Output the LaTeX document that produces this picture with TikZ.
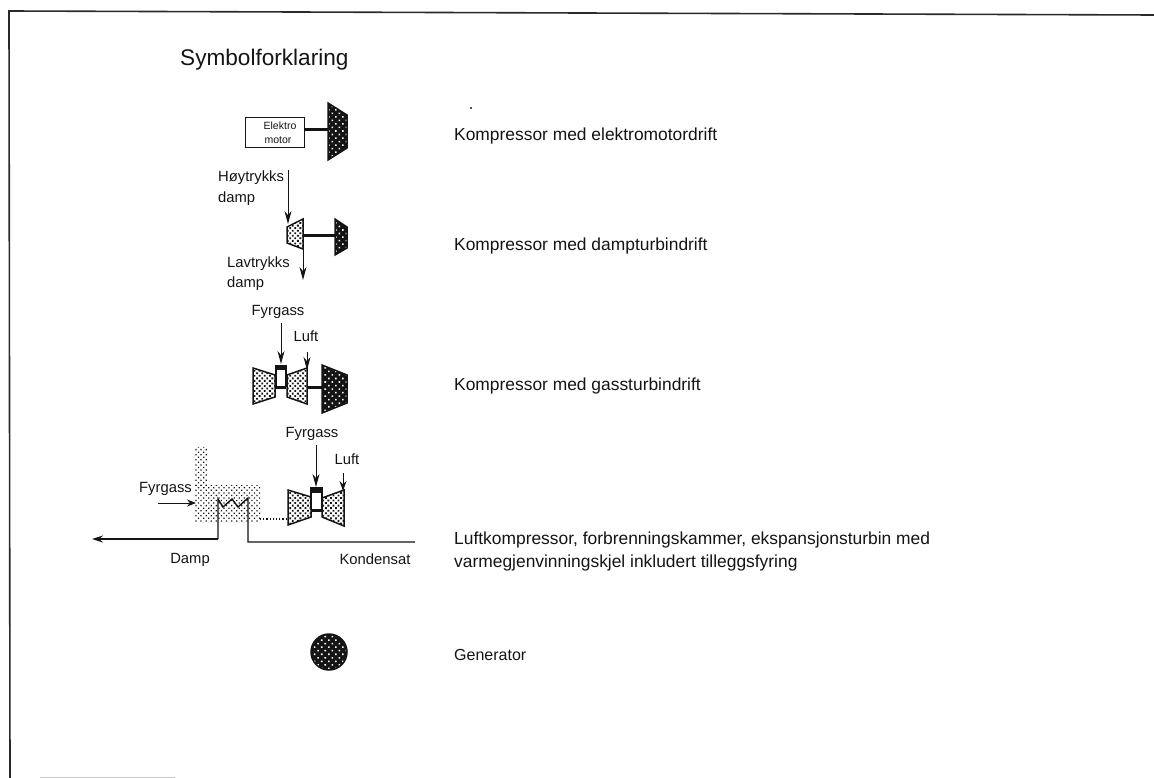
\documentclass[tikz,border=0pt]{standalone}
\usepackage{xcolor}
\usepackage{fontspec}
\setmainfont{Liberation Sans}
\usepackage{tikz}
\usetikzlibrary{positioning,arrows.meta,patterns.meta}
\definecolor{inkc}{HTML}{141414}
\definecolor{framec}{HTML}{2A2A2A}
\tikzset{
  lbl/.style={anchor=west,inner sep=0pt,text=inkc,font=\fontsize{17.4}{19}\selectfont},
  tag/.style={inner sep=0pt,text=inkc,font=\fontsize{14.8}{16}\selectfont},
  tiny/.style={inner sep=0pt,text=inkc,font=\fontsize{10.5}{12}\selectfont},
  flow/.style={draw=inkc,line width=1pt,-{Stealth[length=13pt,width=7pt]}},
  shaft/.style={draw=inkc,line width=3pt},
  pipe/.style={draw=inkc,line width=1.4pt},
  darkfill/.style={draw=inkc,line width=1.5pt,preaction={fill=inkc},pattern={Dots[distance=5pt,radius=1.1pt,angle=45]},pattern color=white},
  midfill/.style={draw=inkc,line width=1.5pt,pattern={Dots[distance=3.6pt,radius=1.3pt,angle=45]},pattern color=inkc},
  lightfill/.style={pattern={Dots[distance=3.6pt,radius=0.9pt,angle=45]},pattern color=inkc},
}
% x y1 y2 on the left side, x y1 y2 on the right side
\newcommand{\machine}[7]{%
  \path[#1] (#2,#3) -- (#2,#4) -- (#5,#7) -- (#5,#6) -- cycle;
}
% open combustion chamber between two turbines
\newcommand{\burner}[5]{%
  \draw[pipe] (#1,#3) -- (#1,#5) (#2,#3) -- (#2,#5);
  \fill[inkc] (#1-1,#3) rectangle (#2+1,#4);
  \draw[shaft] (#1,#5) -- (#2,#5);
}
\begin{document}
\begin{tikzpicture}[x=1pt,y=-1pt]
  \useasboundingbox (0,0) rectangle (1154,778);
  % frame
  \draw[framec,line width=1.6pt] (10,778) -- (9,11) -- (1154,15);
  \draw[gray!45,line width=1pt] (40,777.5) -- (175,777.5);
  \node[inner sep=0pt,anchor=west,text=inkc,font=\fontsize{22.6}{24}\selectfont] (title) at (180,60) {Symbolforklaring};
  \fill[inkc] (471,108) circle (1.1);

  % motor drive
  \node[draw=inkc,line width=1pt,minimum width=59pt,minimum height=30pt,inner sep=0pt] (motor) at (274.5,133) {};
  \node[tiny] (motor a) at (280,126) {Elektro};
  \node[tiny] (motor b) at (278,140) {motor};
  \coordinate (comp a) at (328,130);
  \draw[shaft] (motor.east |- comp a) -- (comp a);
  \machine{darkfill}{328}{103}{160}{347}{115}{148}
  \node[lbl] (text a) at (454,136.5) {Kompressor med elektromotordrift};

  % steam turbine
  \node[tag,anchor=west] (hp a) at (218,178) {Høytrykks};
  \node[tag,anchor=west] (hp b) at (218,199) {damp};
  \coordinate (hp in) at (288,170);
  \coordinate (hp tip) at (288,224);
  \draw[flow] (hp in) -- (hp tip);
  \machine{midfill}{287}{227}{243}{303}{219}{249}
  \coordinate (st a) at (303,236);
  \coordinate (st b) at (335,236);
  \draw[shaft] (st a) -- (st b);
  \machine{darkfill}{335}{219}{255}{347}{227}{248}
  \coordinate (lp out) at (303,249);
  \coordinate (lp tip) at (303,280);
  \draw[flow] (lp out) -- (lp tip);
  \node[tag,anchor=west] (lp a) at (227,264) {Lavtrykks};
  \node[tag,anchor=west] (lp b) at (227,284) {damp};
  \node[lbl] (text b) at (454,246) {Kompressor med dampturbindrift};

  % gas turbine
  \node[tag] (gt fuel) at (278,312) {Fyrgass};
  \node[tag] (gt air) at (306,336) {Luft};
  \coordinate (gt a) at (281,323);
  \coordinate (gt b) at (281,364);
  \draw[flow] (gt a) -- (gt b);
  \coordinate (gt c) at (307,352);
  \coordinate (gt d) at (307,370);
  \draw[flow] (gt c) -- (gt d);
  \burner{276}{286}{365}{370}{387}
  \coordinate (gt e) at (307,387);
  \coordinate (gt f) at (322,387);
  \draw[shaft] (gt e) -- (gt f);
  \machine{midfill}{253}{368}{404}{275}{375}{397}
  \machine{midfill}{307}{368}{404}{287}{375}{397}
  \machine{darkfill}{322}{365}{413}{347}{375}{403}
  \node[lbl] (text c) at (454,386) {Kompressor med gassturbindrift};

  % heat recovery unit
  \path[lightfill] (195,447) rectangle (207,487);
  \path[lightfill] (195,485) rectangle (260,522);
  \node[tag] (hr fuel) at (165.5,489) {Fyrgass};
  \coordinate (hr a) at (158,503);
  \coordinate (hr b) at (196,503);
  \draw[flow,-{Stealth[length=9pt,width=7pt]}] (hr a) -- (hr b);
  \coordinate (coil a) at (218,499);
  \coordinate (coil b) at (248,498);
  \coordinate (steam) at (218,539);
  \coordinate (steam tip) at (92,539);
  \coordinate (cond) at (248,542);
  \coordinate (cond end) at (415,542);
  \draw[pipe] (steam) -- (coil a) -- (223,507) -- (232,499) -- (238,507) -- (coil b) -- (cond) -- (cond end);
  \draw[flow,-{Stealth[length=11pt,width=7pt]},line width=1.4pt] (steam) -- (steam tip);
  \node[tag] (damp) at (190,560) {Damp};
  \node[tag] (kond) at (375,559) {Kondensat};
  \coordinate (ex a) at (260,519);
  \coordinate (ex b) at (288,519);
  \draw[inkc,line width=1.2pt,dotted] (ex a) -- (ex b);

  % gas turbine of the recovery unit
  \node[tag] (hg fuel) at (312,434) {Fyrgass};
  \node[tag] (hg air) at (347,459) {Luft};
  \coordinate (hg a) at (316,445);
  \coordinate (hg b) at (316,487);
  \draw[flow] (hg a) -- (hg b);
  \coordinate (hg c) at (343,473);
  \coordinate (hg d) at (343,491);
  \draw[flow,-{Stealth[length=10pt,width=7pt]}] (hg c) -- (hg d);
  \burner{311}{322}{487}{493}{510}
  \machine{midfill}{288}{490}{525}{311}{497}{517}
  \machine{midfill}{344}{490}{526}{322}{498}{517}
  \node[lbl] (text d) at (454,539.5) {Luftkompressor, forbrenningskammer, ekspansjonsturbin med};
  \node[lbl] (text e) at (454,563) {varmegjenvinningskjel inkludert tilleggsfyring};

  % generator
  \node[circle,minimum size=36pt,inner sep=0pt,darkfill] (gen) at (329,652) {};
  \node[lbl,font=\fontsize{16}{18}\selectfont] (text f) at (454,654.5) {Generator};
\end{tikzpicture}
\end{document}
